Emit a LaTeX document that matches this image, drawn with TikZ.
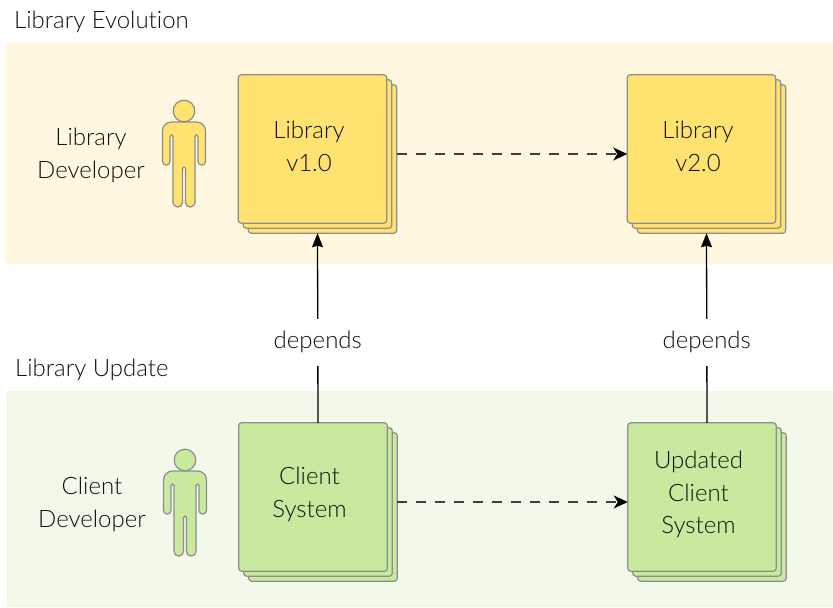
\documentclass[tikz,border=0pt]{standalone}
\usepackage{fontspec}
\setmainfont[Ligatures=NoCommon]{Lato Light}
\usetikzlibrary{arrows.meta}

\definecolor{bandyellow}{HTML}{FFF7DF}
\definecolor{bandgreen}{HTML}{F2F8EA}
\definecolor{fillyellow}{HTML}{FFE26F}
\definecolor{fillgreen}{HTML}{C8E99E}
\definecolor{edgegray}{HTML}{8E8E8E}
\definecolor{inkgray}{HTML}{111111}

\begin{document}
\begin{tikzpicture}[x=1pt, y=-1pt, node distance=389pt, font=\fontsize{24}{32.3}\selectfont, text=inkgray]
\tikzstyle{band} = [rectangle, minimum width=827pt, inner sep=0pt, outer sep=0pt]
\tikzstyle{stackbox} = [rectangle, minimum width=148.5pt, minimum height=148.5pt, inner sep=0pt, outer sep=0pt, rounded corners=3pt, draw=edgegray, line width=1.2pt]
\tikzstyle{boxtext} = [align=center, xshift=-3.5pt, yshift=2.5pt]
\tikzstyle{caption} = [align=center]
\tikzstyle{heading} = [anchor=west, inner sep=0pt]
\tikzstyle{depends} = [fill=white, minimum height=47pt, inner ysep=0pt, pos=0.434]
\tikzstyle{dep} = [line width=1.3pt, -{Stealth[length=14pt, width=11pt, inset=1.5pt]}]
\tikzstyle{evolve} = [line width=1.5pt, draw=black!75, dash pattern=on 10pt off 9pt, -{Stealth[length=14pt, width=13pt, inset=4pt, color=black, fill=black]}]
\tikzset{person/.pic={
  \draw [line width=1.2pt, draw=edgegray, fill=#1]
    (0,11) [rounded corners=9pt] -- (-21.5,11) [rounded corners=3.6pt] -- (-21.5,54) -- (-14,54)
    [rounded corners=1.4pt] -- (-14,24) -- (-11,24)
    [rounded corners=4.6pt] -- (-11,96) -- (-1.5,96)
    [rounded corners=1.4pt] -- (-1.5,56) -- (1.5,56)
    [rounded corners=4.6pt] -- (1.5,96) -- (11,96)
    [rounded corners=1.4pt] -- (11,24) -- (14,24)
    [rounded corners=3.6pt] -- (14,54) -- (21.5,54)
    [rounded corners=9pt] -- (21.5,11) -- cycle;
  \draw [line width=1.2pt, draw=edgegray, fill=#1] (0,0) circle (10.8pt);
}}
\useasboundingbox (0,0) rectangle (833,608);

\node (evolution) [band, fill=bandyellow, minimum height=221pt] at (419.5,153.5) {};
\node (update)    [band, fill=bandgreen, minimum height=216pt] at (419.5,499) {};
\node (evolutiontitle) [heading] at (14,21.5) {Library Evolution};
\node (updatetitle)    [heading] at (15,369.5) {Library Update};

\node (lib1c) [stackbox, fill=fillyellow] at (322.5,159) {};
\node (lib1b) [stackbox, fill=fillyellow, at=(lib1c), xshift=-5pt, yshift=5pt] {};
\node (lib1)  [stackbox, fill=fillyellow, at=(lib1b), xshift=-5pt, yshift=5pt] {};
\node (lib2c) [stackbox, fill=fillyellow, right of=lib1c] {};
\node (lib2b) [stackbox, fill=fillyellow, at=(lib2c), xshift=-5pt, yshift=5pt] {};
\node (lib2)  [stackbox, fill=fillyellow, at=(lib2b), xshift=-5pt, yshift=5pt] {};
\node (libtext1) [boxtext, at=(lib1)] {Library\\v1.0};
\node (libtext2) [boxtext, at=(lib2)] {Library\\v2.0};

\node (clientc) [stackbox, fill=fillgreen] at (323,507) {};
\node (clientb) [stackbox, fill=fillgreen, at=(clientc), xshift=-5pt, yshift=5pt] {};
\node (client)  [stackbox, fill=fillgreen, at=(clientb), xshift=-5pt, yshift=5pt] {};
\node (updatedc) [stackbox, fill=fillgreen, right of=clientc] {};
\node (updatedb) [stackbox, fill=fillgreen, at=(updatedc), xshift=-5pt, yshift=5pt] {};
\node (updated)  [stackbox, fill=fillgreen, at=(updatedb), xshift=-5pt, yshift=5pt] {};
\node (clienttext)  [boxtext, at=(client)] {Client\\System};
\node (updatedtext) [boxtext, at=(updated)] {Updated\\Client\\System};

\pic at (184,111) {person=fillyellow};
\pic at (185,460) {person=fillgreen};
\node (libdev)    [caption] at (91,155.5) {Library\\Developer};
\node (clientdev) [caption] at (92,504.5) {Client\\Developer};

\draw [evolve] (lib1b -| lib1c.east) -- (lib1b -| lib2.west);
\draw [evolve] (clientb -| clientc.east) -- (clientb -| updated.west);
\draw [dep] (client.north -| clientb) -- node[depends, yshift=-1.5pt] {depends} (lib1c.south -| lib1b);
\draw [dep] (updated.north -| updatedb) -- node[depends, yshift=-1.5pt] {depends} (lib2c.south -| lib2b);

\end{tikzpicture}
\end{document}
